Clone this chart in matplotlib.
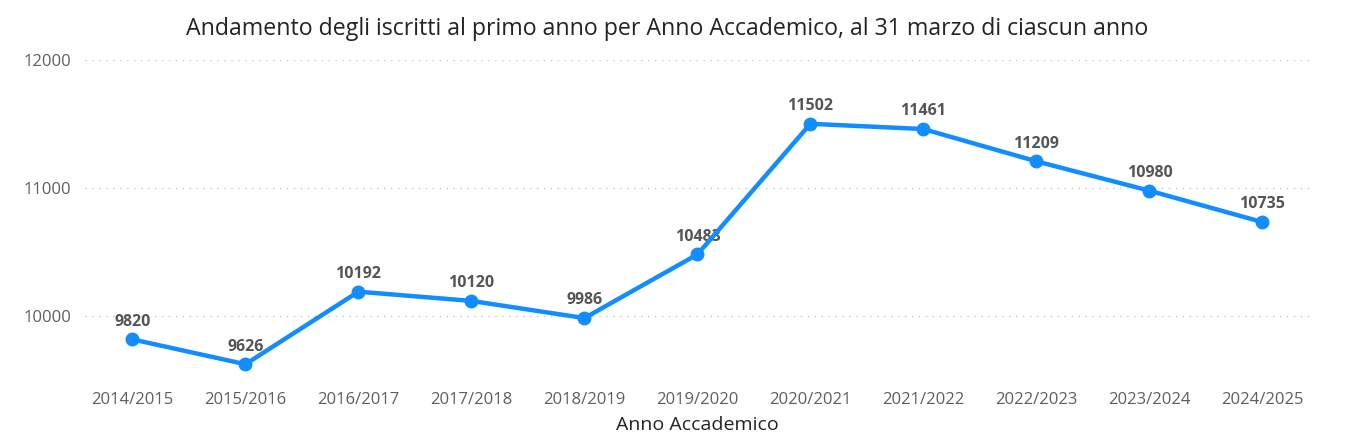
import matplotlib.pyplot as plt

# dati
anni = ['2014/2015', '2015/2016', '2016/2017', '2017/2018', '2018/2019', '2019/2020',
        '2020/2021', '2021/2022', '2022/2023', '2023/2024', '2024/2025']
iscritti = [9820, 9626, 10192, 10120, 9986, 10483, 11502, 11461, 11209, 10980, 10735]
y_ticks = [10000, 11000, 12000]

plt.rcParams['font.family'] = ['Open Sans', 'DejaVu Sans']

fig = plt.figure(figsize=(13.55, 4.41), dpi=100)
ax = fig.add_axes([0.0627, 0.152, 0.904, 0.712])

x = range(len(anni))
ax.plot(x, iscritti, color='#118DFF', linewidth=3.2, marker='o', markersize=9, zorder=3)

# etichette dei valori
for i, v in zip(x, iscritti):
    ax.annotate(str(v), (i, v), xytext=(0, 7), textcoords='offset points',
                ha='center', va='bottom', fontsize=11.5, fontweight='bold',
                color='#555555', zorder=2)

ax.set_xlim(-0.42, len(anni) - 1 + 0.42)
ax.set_ylim(9550, 12000)
ax.set_yticks(y_ticks)
ax.set_xticks(list(x))
ax.set_xticklabels(anni)
ax.tick_params(axis='both', length=0, labelsize=12, labelcolor='#605E5C')
ax.tick_params(axis='x', pad=13)
ax.tick_params(axis='y', pad=10)

ax.grid(axis='y', color='#C8C8C8', linestyle=(0, (1, 4)), linewidth=1)
ax.set_axisbelow(True)
for s in ax.spines.values():
    s.set_visible(False)

ax.set_xlabel('Anno Accademico', fontsize=14, color='#252423', labelpad=5.5)
fig.text(0.4926, 0.935, 'Andamento degli iscritti al primo anno per Anno Accademico, al 31 marzo di ciascun anno',
         ha='center', va='center', fontsize=16.7, fontweight='medium', color='#252423')

fig.savefig('out.png', dpi=100)
